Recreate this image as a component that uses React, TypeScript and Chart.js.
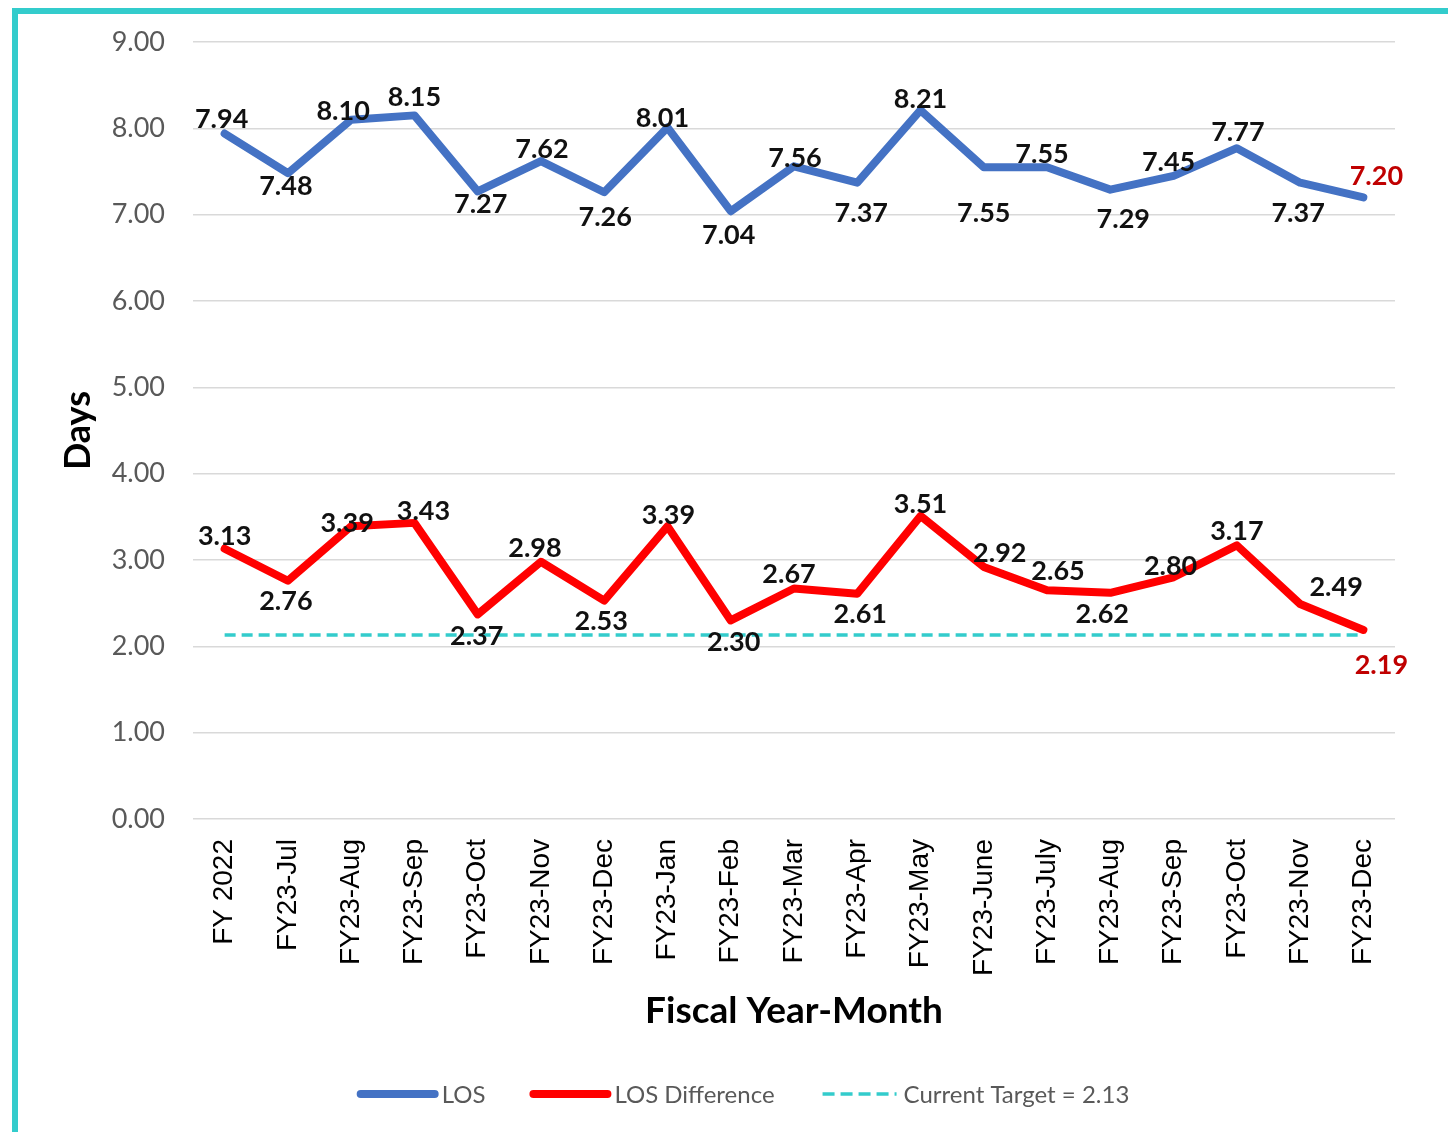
import React, { useEffect, useRef } from "react";
import { Chart, registerables } from "chart.js";

Chart.register(...registerables);

// ---------- DATA ----------
const categories = [
  "FY 2022", "FY23-Jul", "FY23-Aug", "FY23-Sep", "FY23-Oct", "FY23-Nov", "FY23-Dec",
  "FY23-Jan", "FY23-Feb", "FY23-Mar", "FY23-Apr", "FY23-May", "FY23-June", "FY23-July",
  "FY23-Aug", "FY23-Sep", "FY23-Oct", "FY23-Nov", "FY23-Dec",
];
const losValues = [7.94, 7.48, 8.10, 8.15, 7.27, 7.62, 7.26, 8.01, 7.04, 7.56, 7.37, 8.21, 7.55, 7.55, 7.29, 7.45, 7.77, 7.37, 7.20];
const losDiffValues = [3.13, 2.76, 3.39, 3.43, 2.37, 2.98, 2.53, 3.39, 2.30, 2.67, 2.61, 3.51, 2.92, 2.65, 2.62, 2.80, 3.17, 2.49, 2.19];
const targetValues = [2.13, 2.13, 2.13, 2.13, 2.13, 2.13, 2.13, 2.13, 2.13, 2.13, 2.13, 2.13, 2.13, 2.13, 2.13, 2.13, 2.13, 2.13, 2.13];
const yTickValues = [0, 1, 2, 3, 4, 5, 6, 7, 8, 9];
const seriesNames = ["LOS", "LOS Difference", "Current Target = 2.13"];

// ---------- STYLE ----------
const COLORS = {
  los: "#4472C4",
  diff: "#FF0000",
  target: "#33CCCC",
  lastLabel: "#C00000",
  grid: "#D9D9D9",
  tick: "#595959",
  frame: "#33CCCC",
};
// data-label placement (dx, dy in px from the point)
const losLabelOffsets = [
  [-3, -16], [-2, 12], [-8, -10], [0, -19], [3, 12], [1, -13], [1, 24], [-5, -10], [-2, 23], [1, -9],
  [4, 29], [0, -12], [0, 45], [-5, -14], [13, 28], [-5, -15], [1, -17], [-2, 29], [13, -22],
];
const diffLabelOffsets = [
  [0, -14], [-2, 19], [-4, -4], [9, -13], [-1, 21], [-6, -15], [-3, 19], [1, -12], [3, 21], [-5, -15],
  [3, 19], [0, -13], [16, -15], [11, -20], [-8, 20], [-3, -12], [0, -15], [36, -18], [18, 34],
];

const labelPlugin = {
  id: "pointLabels",
  afterDatasetsDraw(chart: any) {
    const ctx = chart.ctx;
    ctx.save();
    ctx.font = "bold 27px Lato";
    ctx.textAlign = "center";
    ctx.textBaseline = "alphabetic";
    chart.data.datasets.forEach((ds: any, di: number) => {
      const offs = ds.labelOffsets;
      if (!offs) return;
      const meta = chart.getDatasetMeta(di);
      meta.data.forEach((pt: any, i: number) => {
        const v = ds.data[i];
        const [dx, dy] = offs[i];
        ctx.fillStyle = i === ds.data.length - 1 ? COLORS.lastLabel : "#111111";
        ctx.fillText(Number(v).toFixed(2), pt.x + dx, pt.y + dy + 10);
      });
    });
    ctx.restore();
  },
};

const legendPlugin = {
  id: "customLegend",
  afterDraw(chart: any) {
    const ctx = chart.ctx;
    const items = chart.data.datasets.map((ds: any) => ({
      text: ds.label,
      color: ds.borderColor,
      width: ds.legendLineWidth,
      dash: ds.legendDash || [],
    }));
    ctx.save();
    ctx.font = "24px Lato";
    const lineLen = 82;
    const gap = 3;
    const spacing = 44;
    const widths = items.map((it: any) => lineLen + gap + ctx.measureText(it.text).width);
    const total = widths.reduce((a: number, b: number) => a + b, 0) + spacing * (items.length - 1);
    let x = 725 - total / 2;
    const y = 1080;
    items.forEach((it: any, i: number) => {
      ctx.beginPath();
      ctx.strokeStyle = it.color;
      ctx.lineWidth = it.width;
      ctx.lineCap = it.dash.length ? "butt" : "round";
      ctx.setLineDash(it.dash);
      ctx.moveTo(x + 4, y);
      ctx.lineTo(x + lineLen - 4, y);
      ctx.stroke();
      ctx.setLineDash([]);
      ctx.fillStyle = COLORS.tick;
      ctx.textAlign = "left";
      ctx.textBaseline = "middle";
      ctx.fillText(it.text, x + lineLen + gap, y + 1);
      x += widths[i] + spacing;
    });
    ctx.restore();
  },
};

export default function App() {
  const canvasRef = useRef<HTMLCanvasElement | null>(null);

  useEffect(() => {
    if (!canvasRef.current) return;
    const chart = new Chart(canvasRef.current, {
      type: "line",
      data: {
        labels: categories,
        datasets: [
          {
            label: seriesNames[0],
            data: losValues,
            borderColor: COLORS.los,
            backgroundColor: COLORS.los,
            borderWidth: 8,
            borderJoinStyle: "round",
            borderCapStyle: "round",
            pointRadius: 0,
            tension: 0,
            labelOffsets: losLabelOffsets,
            legendLineWidth: 8,
          } as any,
          {
            label: seriesNames[1],
            data: losDiffValues,
            borderColor: COLORS.diff,
            backgroundColor: COLORS.diff,
            borderWidth: 8,
            borderJoinStyle: "round",
            borderCapStyle: "round",
            pointRadius: 0,
            tension: 0,
            labelOffsets: diffLabelOffsets,
            legendLineWidth: 8,
          } as any,
          {
            label: seriesNames[2],
            data: targetValues,
            borderColor: COLORS.target,
            backgroundColor: COLORS.target,
            borderWidth: 3.5,
            borderDash: [11, 6],
            pointRadius: 0,
            tension: 0,
            legendLineWidth: 3.5,
            legendDash: [12, 6],
          } as any,
        ],
      },
      options: {
        responsive: false,
        animation: false,
        devicePixelRatio: 1,
        layout: { padding: { top: 28, right: 53, left: 0, bottom: 0 } },
        plugins: {
          legend: { display: false },
          tooltip: { enabled: false },
        },
        scales: {
          x: {
            type: "category",
            offset: true,
            grid: { display: false, drawTicks: false },
            border: { display: false },
            ticks: {
              autoSkip: false,
              minRotation: 90,
              maxRotation: 90,
              padding: 20,
              color: "#000000",
              font: { family: "Liberation Sans", size: 28 },
            },
            title: {
              display: true,
              text: "Fiscal Year-Month",
              color: "#000000",
              font: { family: "Lato", size: 37, weight: "bold" },
              padding: { top: 0, bottom: 99 },
            },
            afterFit: (s: any) => {
              s.height = 313;
            },
          },
          y: {
            min: 0,
            max: 9,
            afterBuildTicks: (s: any) => {
              s.ticks = yTickValues.map((v) => ({ value: v }));
            },
            ticks: {
              padding: 0,
              color: COLORS.tick,
              font: { family: "Lato", size: 27 },
              callback: (v: any) => Number(v).toFixed(2),
            },
            grid: {
              color: COLORS.grid,
              lineWidth: 1.5,
              drawTicks: true,
              tickLength: 28,
              tickColor: "rgba(0,0,0,0)",
            },
            border: { display: false },
            title: {
              display: true,
              text: "Days",
              color: "#000000",
              font: { family: "Lato", size: 36, weight: "bold" },
              padding: { top: 39, bottom: 0 },
            },
            afterFit: (s: any) => {
              s.width = 175;
            },
          },
        },
      } as any,
      plugins: [labelPlugin, legendPlugin],
    });
    return () => chart.destroy();
  }, []);

  return (
    <div
      style={{
        position: "absolute",
        left: 0,
        top: 0,
        width: 1448,
        height: 1132,
        overflow: "hidden",
        background: "#ffffff",
      }}
    >
      <div
        style={{
          position: "absolute",
          left: 12,
          top: 8,
          width: 1600,
          height: 1300,
          border: `6px solid ${COLORS.frame}`,
          boxSizing: "border-box",
        }}
      />
      <canvas
        ref={canvasRef}
        width={1430}
        height={1118}
        style={{ position: "absolute", left: 18, top: 14, width: 1430, height: 1118 }}
      />
    </div>
  );
}
